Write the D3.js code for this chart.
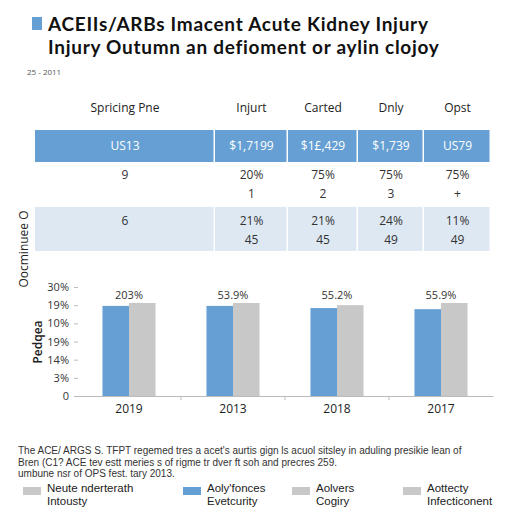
<!DOCTYPE html>
<html lang="en">
<head>
  <meta charset="UTF-8"/>
  <title>ACEIs/ARBs chart</title>
  <script src="https://d3js.org/d3.v7.min.js"></script>
  <style>
    body { margin: 0; background: #fff; }
    text { font-family: "Open Sans", "DejaVu Sans", sans-serif; }
  </style>
</head>
<body>
<script>

var titleLines = ["ACEIIs/ARBs Imacent Acute Kidney Injury",
                  "Injury Outumn an defioment or aylin clojoy"];
var subtitle = "25 - 2011";

// table
var tableHeads = ["Spricing Pne", "Injurt", "Carted", "Dnly", "Opst"];
var tableTop = ["US13", "$1,7199", "$1£,429", "$1,739", "US79"];
var rowA1 = ["9", "20%", "75%", "75%", "75%"];
var rowA2 = ["", "1", "2", "3", "+"];
var rowB1 = ["6", "21%", "21%", "24%", "11%"];
var rowB2 = ["", "45", "45", "49", "49"];

// bars
var years = ["2019", "2013", "2018", "2017"];
var blueValues = [24.8, 24.8, 24.2, 23.9];
var greyValues = [25.6, 25.6, 25.0, 25.6];
var barLabels = ["203%", "53.9%", "55.2%", "55.9%"];
var yTicks = [0, 5, 10, 15, 20, 25, 30];
var yTickLabels = ["0", "3%", "14%", "19%", "10%", "19%", "30%"];

var note = ["The ACE/ ARGS S. TFPT regemed tres a acet's aurtis gign ls acuol sitsley in aduling presikie lean of",
            "Bren (C1? ACE tev estt meries s of rigme tr dver ft soh and precres 259.",
            "umbune nsr of OPS fest. tary 2013."];
var legendNames = [["Neute nderterath", "Intousty"], ["Aoly'fonces", "Evetcurity"],
                   ["Aolvers", "Cogiry"], ["Aottecty", "Infecticonent"]];

var blue = "#659fd3";
var grey = "#c8c8c8";
var legendColors = [grey, blue, grey, grey];
var plainFont = "\"Liberation Sans\", Arial, sans-serif";

var w = 512, h = 512;

var svg = d3.select("body").append("svg")
            .attr("width", w)
            .attr("height", h);

// title
svg.append("rect")
   .attr("x", 32).attr("y", 17)
   .attr("width", 10).attr("height", 13)
   .attr("fill", blue);

svg.selectAll(".title")
   .data(titleLines)
   .enter()
   .append("text")
   .attr("class", "title")
   .attr("x", 48)
   .attr("y", function(d, i) { return 30.5 + i * 23; })
   .attr("font-size", 19)
   .attr("font-weight", 700)
   .attr("letter-spacing", 0.72)
   .attr("fill", "#111")
   .style("font-family", "Lato, sans-serif")
   .text(function(d) { return d; });

svg.append("text")
   .attr("x", 27).attr("y", 75)
   .attr("font-size", 8)
   .attr("fill", "#555")
   .text(subtitle);

// table
var colEdges = [35, 215, 288, 358, 424, 491];
function colX(i) { return (colEdges[i] + colEdges[i + 1]) / 2; }

var table = svg.append("g");

table.selectAll(".head")
     .data(tableHeads)
     .enter()
     .append("text")
     .attr("x", function(d, i) { return colX(i); })
     .attr("y", 112)
     .attr("text-anchor", "middle")
     .attr("font-size", 12)
     .attr("fill", "#222")
     .text(function(d) { return d; });

table.selectAll(".topcell")
     .data(tableTop)
     .enter()
     .append("rect")
     .attr("x", function(d, i) { return colEdges[i]; })
     .attr("y", 130)
     .attr("width", function(d, i) { return colEdges[i + 1] - colEdges[i] - 1.5; })
     .attr("height", 32)
     .attr("fill", blue);

table.selectAll(".toptext")
     .data(tableTop)
     .enter()
     .append("text")
     .attr("x", function(d, i) { return colX(i); })
     .attr("y", 150)
     .attr("text-anchor", "middle")
     .attr("font-size", 12)
     .attr("fill", "#fff")
     .text(function(d) { return d; });

table.selectAll(".bcell")
     .data(rowB1)
     .enter()
     .append("rect")
     .attr("x", function(d, i) { return colEdges[i]; })
     .attr("y", 207)
     .attr("width", function(d, i) { return colEdges[i + 1] - colEdges[i] - 1.5; })
     .attr("height", 44)
     .attr("fill", "#dde8f3");

function rowText(arr, y) {
  table.append("g").selectAll("text")
       .data(arr)
       .enter()
       .append("text")
       .attr("x", function(d, i) { return colX(i); })
       .attr("y", y)
       .attr("text-anchor", "middle")
       .attr("font-size", 12)
       .attr("fill", "#333")
       .text(function(d) { return d; });
}
rowText(rowA1, 179);
rowText(rowA2, 198);
rowText(rowB1, 225);
rowText(rowB2, 244);

// side labels
svg.append("text")
   .attr("transform", "translate(28,249) rotate(-90)")
   .attr("text-anchor", "middle")
   .attr("font-size", 12)
   .attr("fill", "#222")
   .text("Oocminuee O");

svg.append("text")
   .attr("transform", "translate(42,342) rotate(-90)")
   .attr("text-anchor", "middle")
   .attr("font-size", 12)
   .attr("font-weight", 600)
   .attr("fill", "#222")
   .text("Pedqea");

// bar chart
var x0 = d3.scaleBand()
           .domain(d3.range(years.length))
           .range([77, 493])
           .padding(0);

var x1 = d3.scaleBand()
           .domain(["blue", "grey"])
           .range([0, x0.bandwidth()])
           .paddingInner(0)
           .paddingOuter(0.96);

var y = d3.scaleLinear()
          .domain([0, 30])
          .range([396, 287]);

var yAxis = d3.axisLeft(y)
              .tickValues(yTicks)
              .tickSize(4)
              .tickPadding(5)
              .tickFormat(function(d, i) { return yTickLabels[i]; });

var yg = svg.append("g")
            .attr("transform", "translate(78,0)")
            .call(yAxis);
yg.select(".domain").remove();
yg.selectAll("line").attr("stroke", "#bbb");
yg.selectAll("text")
  .attr("font-size", 11)
  .attr("fill", "#333")
  .style("font-family", "\"Open Sans\", sans-serif");

var groups = svg.selectAll(".grp")
                .data(years)
                .enter()
                .append("g")
                .attr("transform", function(d, i) { return "translate(" + x0(i) + ",0)"; });

groups.append("rect")
      .attr("x", x1("blue"))
      .attr("y", function(d, i) { return y(blueValues[i]); })
      .attr("width", x1.bandwidth())
      .attr("height", function(d, i) { return y(0) - y(blueValues[i]); })
      .attr("fill", blue);

groups.append("rect")
      .attr("x", x1("grey"))
      .attr("y", function(d, i) { return y(greyValues[i]); })
      .attr("width", x1.bandwidth())
      .attr("height", function(d, i) { return y(0) - y(greyValues[i]); })
      .attr("fill", grey);

groups.append("text")
      .attr("x", x0.bandwidth() / 2)
      .attr("y", 299)
      .attr("text-anchor", "middle")
      .attr("font-size", 11)
      .attr("fill", "#333")
      .text(function(d, i) { return barLabels[i]; });

var xAxis = d3.axisBottom(x0)
              .tickSize(0)
              .tickPadding(8)
              .tickFormat(function(d, i) { return years[i]; });

var xg = svg.append("g")
            .attr("transform", "translate(0,396)")
            .call(xAxis);
xg.select(".domain").attr("stroke", "#bbb");
xg.selectAll("text")
  .attr("font-size", 12)
  .attr("fill", "#222")
  .style("font-family", "\"Open Sans\", sans-serif");

svg.selectAll(".sep")
   .data(d3.range(1, years.length))
   .enter()
   .append("line")
   .attr("x1", function(d) { return x0(d); })
   .attr("x2", function(d) { return x0(d); })
   .attr("y1", 396).attr("y2", 400)
   .attr("stroke", "#bbb");

// note
svg.selectAll(".note")
   .data(note)
   .enter()
   .append("text")
   .attr("x", 18)
   .attr("y", function(d, i) { return 454 + i * 11.5; })
   .attr("font-size", 10)
   .attr("fill", "#333")
   .style("font-family", plainFont)
   .text(function(d) { return d; });

// legend
var legX = [23, 183, 292, 403];
var leg = svg.selectAll(".leg")
             .data(legendNames)
             .enter()
             .append("g")
             .attr("transform", function(d, i) { return "translate(" + legX[i] + ",0)"; });

leg.append("rect")
   .attr("x", 0).attr("y", 487)
   .attr("width", 18).attr("height", 8)
   .attr("fill", function(d, i) { return legendColors[i]; });

leg.each(function(d) {
  d3.select(this).selectAll("text")
    .data(d)
    .enter()
    .append("text")
    .attr("x", 24)
    .attr("y", function(t, j) { return 492 + j * 13; })
    .attr("font-size", 11.5)
    .attr("fill", "#222")
    .style("font-family", plainFont)
    .text(function(t) { return t; });
});

</script>
</body>
</html>
